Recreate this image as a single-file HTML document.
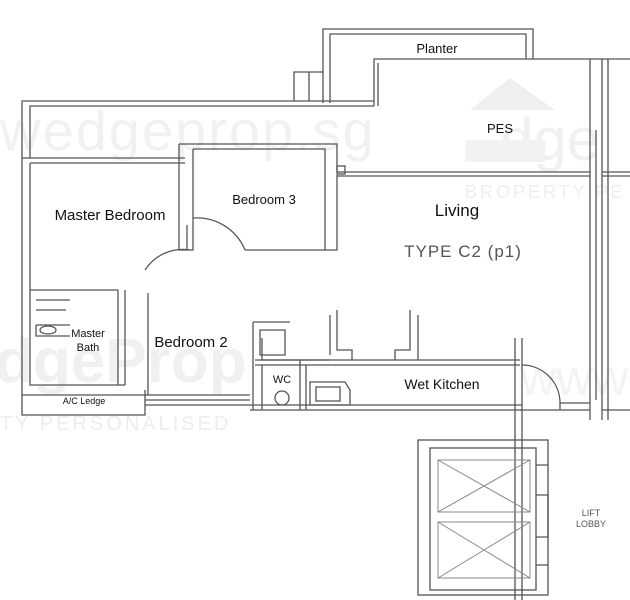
<!DOCTYPE html>
<html><head><meta charset="utf-8"><style>
html,body{margin:0;padding:0;background:#fff;}
svg{display:block;}
text{font-family:"Liberation Sans",sans-serif;}
</style></head><body>
<svg width="630" height="600" viewBox="0 0 630 600" xmlns="http://www.w3.org/2000/svg">
<rect width="630" height="600" fill="#fff"/>
<!-- watermarks -->
<g font-family="Liberation Sans">
<text x="0" y="150" font-size="56" letter-spacing="2" fill="#f1f1f1">wedgeprop.sg</text>
<text x="-5" y="382" font-size="62" font-weight="bold" fill="#f0f0f0">dgeProp</text>
<text x="0" y="430" font-size="20" letter-spacing="3" fill="#ededed">TY PERSONALISED</text>
<text x="465" y="198" font-size="18" letter-spacing="3" fill="#eeeeee">BROPERTY PE</text>
<text x="500" y="160" font-size="60" fill="#f0f0f0">dge</text>
<path d="M470 110 L510 78 L555 110 Z" fill="#efefef"/>
<rect x="465" y="140" width="80" height="22" fill="#f2f2f2"/>
<text x="520" y="395" font-size="50" fill="#f3f3f3">www.we</text>
</g>
<g fill="none" stroke="#555" stroke-width="1.3">
<path d="M323 103 V29 H533 V59"/>
<path d="M330 103 V34 H526 V59"/>
<path d="M374 106 V59 H630"/>
<path d="M378 106 V63"/>
<path d="M294 101 V72 H323 M309 72 V101"/>
<path d="M22 158 V101 H374"/>
<path d="M30 158 V106 H374"/>
<path d="M590 59 V420 M602 59 V420 M596 130 V400"/>
<path d="M608 59 V420"/>
<path d="M22 158 V395 H145 M30 163 V385 H125"/>
<path d="M22 158 H185 M30 163 H185"/>
<path d="M179 144 H337 V172 M193 149 H325 V250 H245 M337 175 V250 H245"/>
<path d="M179 144 V250 H193 V149"/>
<path d="M187 225 V250 M193 218 A52 52 0 0 1 245 250"/>
<path d="M145 270 A45 45 0 0 1 190 250"/>
<path d="M337 172 H590 M337 176 H590 M602 172 H630 M602 176 H630"/>
<rect x="337" y="166" width="8" height="8"/>
<path d="M30 290 H118 M118 290 V385 M125 290 V385"/>
<path d="M36 300 H70 M36 310 H66 M36 325 H70 M36 325 V336 H70"/>
<ellipse cx="48" cy="330" rx="8" ry="4"/>
<path d="M22 395 V415 H145 V390 M145 395 H250 M145 400 H250 M145 405 H250"/>
<path d="M148 293 V395 M253 322 V410 M253 322 H290"/>
<path d="M260 330 H285 V355 H260 Z"/>
<path d="M255 360 H520 M255 365 H520 M262 365 V410 M300 360 V410 M306 365 V410"/>
<path d="M250 405 H522 M250 410 H522"/>
<path d="M310 382 H345 L350 390 V405 H310 Z M316 387 H340 V401 H316 Z"/>
<circle cx="282" cy="398" r="7"/>
<path d="M330 315 V355 M337 310 V350 H352 V360 M410 310 V350 H395 V360 M418 315 V360"/>
<path d="M262 338 V360 H330"/>
<path d="M515 338 V600 M522 338 V600"/>
<path d="M522 365 A38 38 0 0 1 560 403 H590 M560 403 V410"/>
<path d="M602 410 H630 M520 410 H590"/>
<rect x="418" y="440" width="130" height="155"/>
<rect x="430" y="448" width="106" height="142"/>
<path d="M536 465 H548 M536 495 H548 V537 H536 M536 565 H548"/>
</g>
<g fill="none" stroke="#888" stroke-width="1">
<rect x="438" y="460" width="92" height="52"/>
<path d="M438 460 L530 512 M530 460 L438 512"/>
<rect x="438" y="522" width="92" height="56"/>
<path d="M438 522 L530 578 M530 522 L438 578"/>
</g>
<g fill="#111" font-family="Liberation Sans" text-anchor="middle">
<text x="437" y="53" font-size="13">Planter</text>
<text x="500" y="133" font-size="13">PES</text>
<text x="110" y="220" font-size="15">Master Bedroom</text>
<text x="264" y="204" font-size="13">Bedroom 3</text>
<text x="457" y="216" font-size="17">Living</text>
<text x="463" y="257" font-size="17" fill="#555" letter-spacing="1">TYPE C2 (p1)</text>
<text x="88" y="337" font-size="11">Master</text>
<text x="88" y="351" font-size="11">Bath</text>
<text x="191" y="347" font-size="15">Bedroom 2</text>
<text x="282" y="383" font-size="11">WC</text>
<text x="442" y="389" font-size="14">Wet Kitchen</text>
<text x="84" y="404" font-size="9">A/C Ledge</text>
<text x="591" y="516" font-size="9" fill="#555">LIFT</text>
<text x="591" y="527" font-size="9" fill="#555">LOBBY</text>
</g>
</svg>
</body></html>
